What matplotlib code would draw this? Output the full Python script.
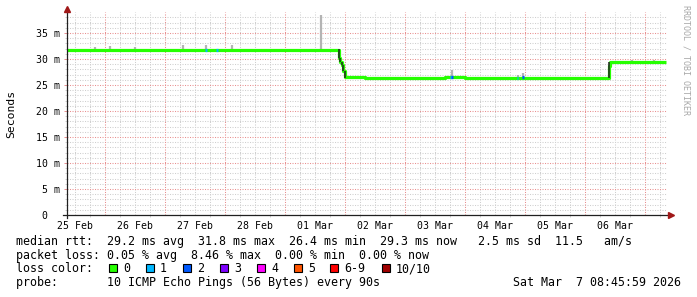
import matplotlib
matplotlib.use('Agg')
import matplotlib.pyplot as plt
from matplotlib.patches import Rectangle

W, H = 697, 297

# time axis: hours since 25 Feb 00:00, graph covers 240 h ending Mar 7 08:45:59
start_h = 8 + 46 / 60.0
end_h = start_h + 240

# median rtt (ms), step values starting at each hour mark
rtt_hours = [8.8, 14, 20, 26, 32, 38, 44, 50, 56, 62, 68, 74, 80, 86, 92, 98, 104, 110, 114,
             117.6, 118.0, 118.7, 119.2, 120.0,
             128, 136, 144, 152, 160, 168, 176, 184, 192, 200, 208, 216, 222,
             225.6, 226.1, 232, 238, 244, 248.4]
rtt_ms = [31.8, 31.7, 31.8, 31.8, 31.7, 31.8, 31.8, 31.7, 31.8, 31.7, 31.7, 31.8, 31.8, 31.7, 31.7, 31.7, 31.8, 31.8, 31.7,
          30.1, 29.5, 28.8, 27.6, 26.5,
          26.4, 26.4, 26.4, 26.4, 26.5, 26.4, 26.4, 26.4, 26.4, 26.4, 26.4, 26.4, 26.4,
          28.6, 29.4, 29.4, 29.4, 29.4, 29.4]

# smoke tips (max rtt) sticking out above the median
smoke_hours = [20.0, 26.0, 36.0, 55.2, 64.4, 74.8, 110.4, 162.8, 189.2, 191.2, 234.8, 243.6]
smoke_lo = [31.8, 31.8, 31.8, 31.8, 31.7, 31.8, 31.7, 26.5, 26.4, 26.5, 29.4, 29.3]
smoke_hi = [32.4, 32.5, 32.3, 32.6, 32.7, 32.6, 38.5, 27.9, 27.0, 27.4, 29.9, 29.9]

# dense smoke where the level shifts
shift_hours = [117.6, 118.0, 118.7, 119.2, 119.8, 225.6]
shift_lo = [30.1, 29.5, 28.8, 27.6, 26.4, 26.4]
shift_hi = [31.9, 30.1, 29.5, 28.8, 27.6, 29.5]

# samples with packet loss
loss_hours = [64.4, 68.8, 162.4, 162.8, 189.0, 191.2]
loss_count = [1, 1, 1, 2, 1, 2]
loss_rtt = [31.7, 31.7, 26.5, 26.6, 26.4, 26.6]

loss_labels = ['0', '1', '2', '3', '4', '5', '6-9', '10/10']
loss_colors = ['#26ff00', '#00b8ff', '#0059ff', '#7e00ff', '#ff00ff', '#ff5500', '#ff0000', '#a00000']

day_labels = ['25 Feb', '26 Feb', '27 Feb', '28 Feb', '01 Mar', '02 Mar', '03 Mar', '04 Mar', '05 Mar', '06 Mar']
y_ticks = [0, 5, 10, 15, 20, 25, 30, 35]
y_labels = ['0  ', '5 m', '10 m', '15 m', '20 m', '25 m', '30 m', '35 m']

legend_lines = [
    'median rtt:  29.2 ms avg  31.8 ms max  26.4 ms min  29.3 ms now   2.5 ms sd  11.5   am/s',
    'packet loss: 0.05 % avg  8.46 % max  0.00 % min  0.00 % now',
    'loss color:',
    'probe:       10 ICMP Echo Pings (56 Bytes) every 90s',
]
stamp = 'Sat Mar  7 08:45:59 2026'

MONO = 'DejaVu Sans Mono'


def fx(x):
    return x / W


def fy(y):
    return 1 - y / H


fig = plt.figure(figsize=(W / 100, H / 100), dpi=100)
fig.patch.set_facecolor('white')
ax = fig.add_axes([fx(67), fy(215), 600 / W, (215 - 12.2) / H])
ax.set_xlim(start_h, end_h)
ax.set_ylim(0, 39)
for s in ax.spines.values():
    s.set_visible(False)

# grid: grey every 1 ms / 6 h, red every 5 ms / midnight
grey = '#cfcfcf'
red = '#e89090'
dots = (0, (1, 1.4))
ax.set_yticks(y_ticks, y_labels)
ax.set_yticks([v for v in range(1, 39) if v % 5], minor=True)
ax.set_xticks([12 + 24 * i for i in range(len(day_labels))], day_labels)
ax.set_xticks([h for h in range(12, 252, 6) if h > start_h and h % 24], minor=True)
ax.grid(True, which='minor', color=grey, lw=0.75, ls=dots)
ax.xaxis.grid(True, which='major', color=grey, lw=0.75, ls=dots)
ax.yaxis.grid(True, which='major', color=red, lw=0.75, ls=dots)
for d in range(24, 249, 24):
    ax.axvline(d, color=red, lw=0.75, ls=dots, zorder=1)
ax.set_axisbelow(True)
ax.tick_params(axis='y', which='major', length=2.5, width=0.7, color=red, pad=2.6,
               labelsize=7.1, labelfontfamily=MONO)
ax.tick_params(axis='y', which='minor', length=1.5, width=0.7, color=grey)
ax.tick_params(axis='x', which='major', length=0, pad=4, labelsize=7.1, labelfontfamily=MONO)
ax.tick_params(axis='x', which='minor', length=1.5, width=0.7, color=grey)

# smoke and median
ax.vlines(smoke_hours, smoke_lo, smoke_hi, color='#b4b4b4', lw=1.6, zorder=2)
ax.vlines(shift_hours, shift_lo, shift_hi, color='#202020', lw=1.1, zorder=4)
ax.step(rtt_hours, rtt_ms, where='post', color=loss_colors[0], lw=2.3, zorder=3,
        solid_capstyle='butt')
ax.hlines(loss_rtt, [h - 0.35 for h in loss_hours], [h + 0.35 for h in loss_hours],
          colors=[loss_colors[c] for c in loss_count], lw=2.3, zorder=4)

# axes with arrows
axis_col = '#202020'
ax.plot([-4 / 600, 604 / 600], [0, 0], transform=ax.transAxes, color=axis_col, lw=0.9,
        clip_on=False, zorder=5)
ax.plot([0, 0], [-3 / 203, 1 + 2 / 203], transform=ax.transAxes, color=axis_col, lw=0.9,
        clip_on=False, zorder=5)
ax.plot([604 / 600], [0], transform=ax.transAxes, marker='>', ms=4.5, color='#a01818',
        mec='#a01818', clip_on=False, zorder=6)
ax.plot([0], [1 + 3 / 203], transform=ax.transAxes, marker='^', ms=4.5, color='#a01818',
        mec='#a01818', clip_on=False, zorder=6)

fig.text(fx(11), fy(114), 'Seconds', rotation=90, ha='center', va='center',
         family=MONO, size=8.2)
fig.text(fx(686), fy(5), 'RRDTOOL / TOBI OETIKER', rotation=270, ha='center', va='top',
         family=MONO, size=6, color='#a8a8a8')

# legend block
line_y = [241, 255, 268.5, 282.5]
for txt, y in zip(legend_lines, line_y):
    fig.text(fx(16), fy(y), txt, ha='left', va='center', family=MONO, size=8.4)
fig.text(fx(681), fy(line_y[3]), stamp, ha='right', va='center', family=MONO, size=8.4)

box_x = [109, 146, 183, 220, 257, 294, 330, 382]
for bx, lab, col in zip(box_x, loss_labels, loss_colors):
    fig.patches.append(Rectangle((fx(bx), fy(272)), 8 / W, 8 / H, transform=fig.transFigure,
                                 facecolor=col, edgecolor='black', lw=0.8))
    fig.text(fx(bx + 14), fy(line_y[2]), lab, ha='left', va='center', family=MONO, size=8.4)

fig.savefig('out.png', dpi=100)
